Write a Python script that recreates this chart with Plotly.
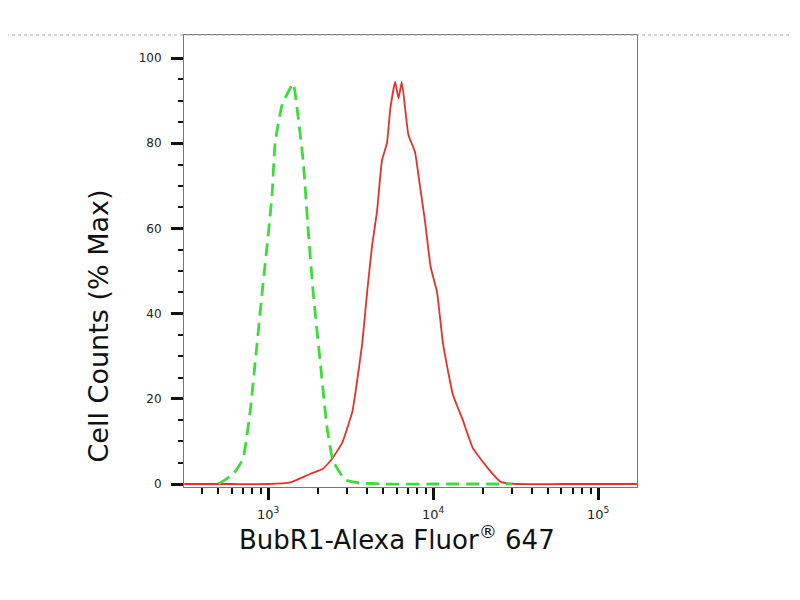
import plotly.graph_objects as go

# Isotype control (green dashed)
ctrl_x = [500, 620, 705, 778, 857, 920, 986, 1057, 1102, 1216, 1419, 1500, 1630, 1746, 1875,
          2065, 2280, 2477, 2930, 3500, 5000, 10000, 20000, 30000]
ctrl_y = [0, 2.5, 6, 17, 33, 45, 56, 68, 80, 89, 94, 88, 76, 60, 45,
          29, 13, 5.4, 1, 0.3, 0, 0, 0, 0]

# BubR1 stained (red solid)
stain_x = [310, 600, 1000, 1350, 1780, 2140, 2450, 2820, 3240, 3370, 3720, 3980, 4270, 4570,
           4900, 5250, 5500, 5890, 6170, 6460, 7080, 7760, 8320, 8910, 9660, 10570,
           11480, 13180, 15140, 17380, 21380, 25700, 31600, 60000, 172000]
stain_y = [0, 0, 0, 0.3, 2.3, 3.5, 6, 9.8, 17, 21, 33, 45, 56, 64,
           76, 80, 88, 94.4, 90.5, 94.4, 82, 78, 70, 62, 51, 45,
           33, 21, 15, 8.5, 3.8, 0.5, 0, 0, 0]

x_tick_vals = [1000, 10000, 100000]
x_tick_text = ["10<sup>3</sup>", "10<sup>4</sup>", "10<sup>5</sup>"]
x_minor_vals = [400, 500, 600, 700, 800, 900,
                2000, 3000, 4000, 5000, 6000, 7000, 8000, 9000,
                20000, 30000, 40000, 50000, 60000, 70000, 80000, 90000]
y_tick_vals = [0, 20, 40, 60, 80, 100]
y_minor_vals = [5, 10, 15, 25, 30, 35, 45, 50, 55, 65, 70, 75, 85, 90, 95]

fig = go.Figure()
fig.add_trace(go.Scatter(x=stain_x, y=stain_y, mode="lines",
                         line=dict(color="#e8302a", width=1.8, shape="spline", smoothing=0.4),
                         showlegend=False))
fig.add_trace(go.Scatter(x=ctrl_x, y=ctrl_y, mode="lines",
                         line=dict(color="#3ddc3a", width=2.8, dash="13px,7px",
                                   shape="spline", smoothing=0.4),
                         showlegend=False))

# page has an 8px body margin; figure is placed at (8, 8)
OFF = 8
FW, FH = 792, 592
L, T = 184 - OFF, 35 - OFF
R = 800 - 637
W = FW - L - R
H = 487 - 35
B = FH - T - H
FONT = "DejaVu Sans, Liberation Sans, Arial, sans-serif"


def px_x(x):
    return (x - OFF - L) / W


def px_y(y):
    return (FH - B - (y - OFF)) / H


fig.update_layout(
    width=FW, height=FH,
    margin=dict(l=L, r=R, t=T, b=B, autoexpand=False),
    paper_bgcolor="white", plot_bgcolor="white",
    font=dict(family=FONT, color="#222"),
    xaxis=dict(
        type="log", range=[2.49, 5.236],
        tickmode="array", tickvals=x_tick_vals, ticktext=x_tick_text,
        ticks="outside", ticklen=12, tickwidth=3, tickcolor="#111",
        tickfont=dict(size=13, color="#222"),
        ticklabelstandoff=3,
        showgrid=False, zeroline=False,
        showline=True, linecolor="#777", linewidth=1, mirror=True,
        minor=dict(tickmode="array", tickvals=x_minor_vals, ticks="outside",
                   ticklen=6, tickwidth=1.5, tickcolor="#111", showgrid=False),
    ),
    yaxis=dict(
        range=[-0.7, 105.4],
        tickmode="array", tickvals=y_tick_vals,
        ticks="outside", ticklen=12, tickwidth=3, tickcolor="#111",
        tickfont=dict(size=12, color="#222"),
        ticklabelstandoff=7,
        showgrid=False, zeroline=False,
        showline=True, linecolor="#777", linewidth=1, mirror=True,
        minor=dict(tickmode="array", tickvals=y_minor_vals, ticks="outside",
                   ticklen=5, tickwidth=1.5, tickcolor="#111", showgrid=False),
    ),
    shapes=[dict(type="line", xref="paper", yref="paper",
                 x0=px_x(0), x1=px_x(800), y0=1, y1=1,
                 line=dict(color="#aaaaaa", width=1, dash="dot"))],
    annotations=[
        dict(text="Cell Counts (% Max)", xref="paper", yref="paper",
             x=px_x(80), y=px_y(326), textangle=-90,
             showarrow=False, font=dict(size=27, color="#111")),
        dict(text="BubR1-Alexa Fluor<sup>®</sup> 647", xref="paper", yref="paper",
             x=px_x(397), y=px_y(557),
             showarrow=False, font=dict(size=26, color="#111")),
    ],
)

fig.write_html("out.html")
